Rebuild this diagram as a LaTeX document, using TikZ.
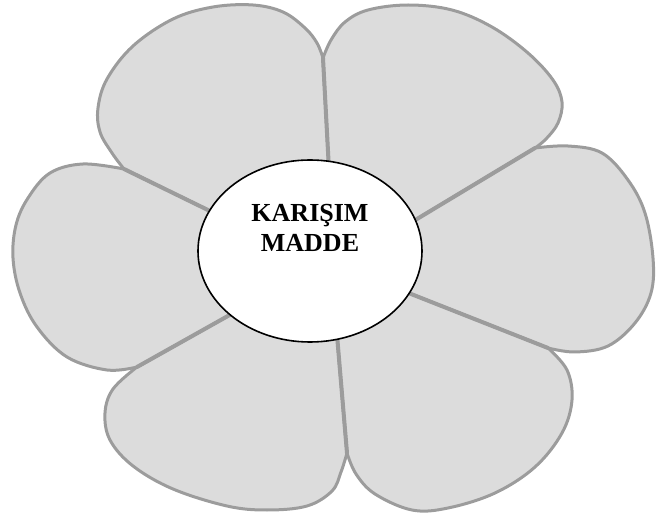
\documentclass[tikz,border=0pt]{standalone}
\usepackage{fontspec}
\setmainfont{Liberation Serif}
\usetikzlibrary{shapes.geometric}
\definecolor{petalfill}{HTML}{DCDCDC}
\definecolor{petalline}{HTML}{9C9C9C}
\tikzset{
  petal/.style={fill=petalfill, draw=petalline, line width=3pt, line join=round},
  divide/.style={draw=petalline, line width=4pt, line cap=round},
  core/.style={ellipse, draw=black, fill=white, line width=1.6pt, minimum width=224pt, minimum height=182pt, inner sep=0pt},
  label/.style={font=\bfseries\fontsize{26}{30}\selectfont, anchor=base, inner sep=0pt}
}
\begin{document}
\begin{tikzpicture}[x=1pt,y=-1pt]
\useasboundingbox (0,0) rectangle (670,521);
\coordinate (C) at (310,251);
% valleys between petals
\coordinate (V1) at (323,58);
\coordinate (V2) at (535,148);
\coordinate (V3) at (548,348);
\coordinate (V4) at (347,453);
\coordinate (V5) at (137,367);
\coordinate (V6) at (124,169);
% where the divides meet the centre
\coordinate (E1) at (329,170);
\coordinate (E2) at (412,222);
\coordinate (E3) at (406,292);
\coordinate (E4) at (337,335);
\coordinate (E5) at (235,312);
\coordinate (E6) at (212,212);
% top-left petal
\path[petal] (C) -- (E6) -- (V6) -- plot[smooth,tension=0.6] coordinates {(V6) (112,153) (100,132) (98,108) (107,79) (133,46) (173,19) (213,7) (253,5) (283,12) (305,28) (317,43) (V1)} -- (E1) -- cycle;
% top-right petal
\path[petal] (C) -- (E1) -- (V1) -- plot[smooth,tension=0.6] coordinates {(V1) (331,40) (345,22) (368,10) (408,5) (452,10) (492,27) (528,53) (553,80) (562,102) (558,123) (546,139) (V2)} -- (E2) -- cycle;
% right petal
\path[petal] (C) -- (E2) -- (V2) -- plot[smooth,tension=0.6] coordinates {(V2) (568,146) (602,153) (628,180) (645,213) (653,258) (651,293) (635,323) (608,346) (575,352) (V3)} -- (E3) -- cycle;
% bottom-left petal
\path[petal] (C) -- (E4) -- (V4) -- plot[smooth,tension=0.6] coordinates {(V4) (341,472) (332,491) (307,506) (267,510) (227,506) (173,489) (133,466) (110,440) (105,413) (113,389) (V5)} -- (E5) -- cycle;
% left petal
\path[petal] (C) -- (E5) -- (V5) -- plot[smooth,tension=0.6] coordinates {(V5) (107,370) (67,357) (37,327) (20,293) (13,258) (16,225) (28,198) (50,173) (83,164) (V6)} -- (E6) -- cycle;
% bottom-right petal
\path[petal] (C) -- (E3) -- (V3) -- plot[smooth,tension=0.6] coordinates {(V3) (567,370) (572,400) (562,433) (535,467) (495,493) (448,508) (412,510) (375,494) (356,474) (V4)} -- (E4) -- cycle;
% divides between petals
\draw[divide] (V1) -- (E1);
\draw[divide] (V2) -- (E2);
\draw[divide] (V3) -- (E3);
\draw[divide] (V4) -- (E4);
\draw[divide] (V5) -- (E5);
\draw[divide] (V6) -- (E6);
% centre
\node[core] (mid) at (310,251) {};
\node[label] (t1) at (310,222) {KARIŞIM};
\node[label] (t2) at (310,252) {MADDE};
\end{tikzpicture}
\end{document}
